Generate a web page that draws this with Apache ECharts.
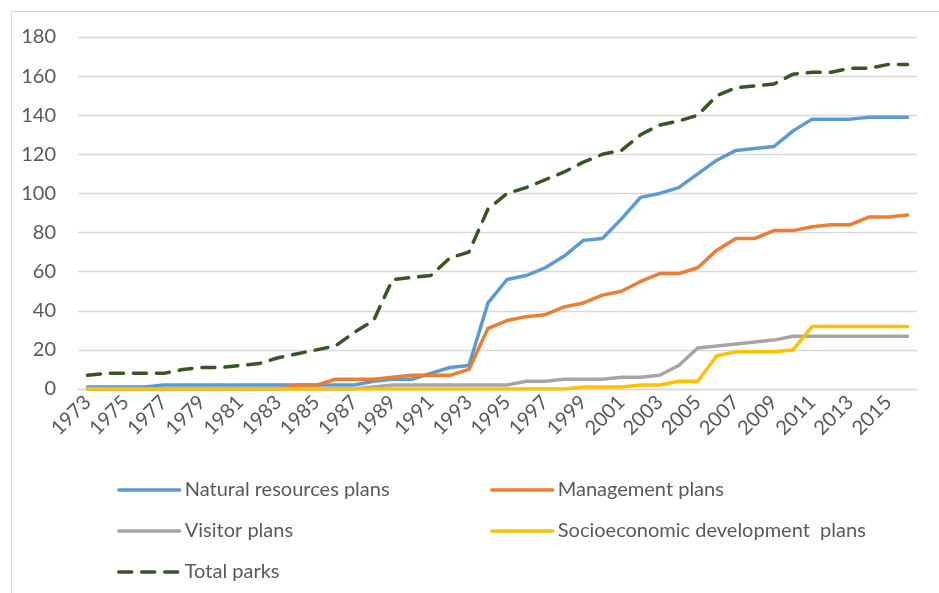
<!DOCTYPE html>
<html>
<head>
<meta charset="utf-8">
<script src="https://cdn.jsdelivr.net/npm/echarts@6/dist/echarts.min.js"></script>
<style>
  html, body { margin: 0; padding: 0; background: #fff; }
  #chart { width: 939px; height: 593px; }
</style>
</head>
<body>
<div id="chart"></div>
<script>
// data
const years = ['1973','1974','1975','1976','1977','1978','1979','1980','1981','1982',
  '1983','1984','1985','1986','1987','1988','1989','1990','1991','1992',
  '1993','1994','1995','1996','1997','1998','1999','2000','2001','2002',
  '2003','2004','2005','2006','2007','2008','2009','2010','2011','2012',
  '2013','2014','2015','2016']
const naturalPlans = [1,1,1,1,2,2,2,2,2,2,2,2,2,2,2,4,5,5,8,11,12,44,56,58,62,68,76,77,87,98,100,103,110,117,122,123,124,132,138,138,138,139,139,139]
const managementPlans = [0,0,0,0,0,0,0,0,0,0,0,2,2,5,5,5,6,7,7,7,10,31,35,37,38,42,44,48,50,55,59,59,62,71,77,77,81,81,83,84,84,88,88,89]
const visitorPlans = [0,0,0,0,0,0,0,0,0,0,0,0,0,0,0,1,2,2,2,2,2,2,2,4,4,5,5,5,6,6,7,12,21,22,23,24,25,27,27,27,27,27,27,27]
const socioPlans = [0,0,0,0,0,0,0,0,0,0,0,0,0,0,0,0,0,0,0,0,0,0,0,0,0,0,1,1,1,2,2,4,4,17,19,19,19,20,32,32,32,32,32,32]
const totalParks = [7,8,8,8,8,10,11,11,12,13,16,18,20,22,29,35,56,57,58,67,70,92,100,103,107,111,116,120,122,130,135,137,140,150,154,155,156,161,162,162,164,164,166,166]
const yTicks = [0, 20, 40, 60, 80, 100, 120, 140, 160, 180]

const names = ['Natural resources plans', 'Management plans', 'Visitor plans', 'Socioeconomic development  plans', 'Total parks']
const colors = ['#5B9BD5', '#ED7D31', '#A5A5A5', '#FFC000', '#375623']
const font = "Lato, 'Open Sans', sans-serif"
const textColor = '#595959'

const chart = echarts.init(document.getElementById('chart'))

// one legend box per item so the two-column layout matches
function legendAt(name, left, top) {
  return {
    data: [name],
    left: left,
    top: top,
    padding: 0,
    itemWidth: 61,
    itemHeight: 24,
    itemStyle: { opacity: 0 },
    lineStyle: { width: 3.5 },
    textStyle: { color: textColor, fontFamily: font, fontSize: 20, lineHeight: 24 }
  }
}

function lineSeries(i, data) {
  return {
    name: names[i],
    type: 'line',
    data: data,
    symbol: 'none',
    z: 2 + i,
    lineStyle: { color: colors[i], width: 3.5, cap: 'round', join: 'round' },
    itemStyle: { color: colors[i] }
  }
}

const option = {
  animation: false,
  backgroundColor: '#fff',
  graphic: [{
    type: 'rect',
    shape: { x: 11.5, y: 11.5, width: 1000, height: 1000 },
    style: { fill: 'none', stroke: '#D9D9D9', lineWidth: 1 }
  }],
  grid: { left: 78, right: 22, top: 37, bottom: 204 },
  legend: [
    legendAt(names[0], 117, 478),
    legendAt(names[1], 490, 478),
    legendAt(names[2], 117, 519),
    legendAt(names[3], 490, 519),
    legendAt(names[4], 117, 560)
  ],
  xAxis: {
    type: 'category',
    data: years,
    boundaryGap: true,
    axisTick: { show: false },
    axisLine: { lineStyle: { color: '#D9D9D9', width: 1.3 } },
    axisLabel: {
      interval: 1,
      rotate: 45,
      margin: 10,
      color: textColor,
      fontFamily: font,
      fontSize: 20
    }
  },
  yAxis: {
    type: 'value',
    min: yTicks[0],
    max: yTicks[yTicks.length - 1],
    interval: 20,
    axisLine: { show: false },
    axisTick: { show: false },
    splitLine: { lineStyle: { color: '#D9D9D9', width: 1.3 } },
    axisLabel: {
      margin: 22,
      color: textColor,
      fontFamily: font,
      fontSize: 20
    }
  },
  series: [
    lineSeries(0, naturalPlans),
    lineSeries(1, managementPlans),
    lineSeries(2, visitorPlans),
    lineSeries(3, socioPlans),
    Object.assign(lineSeries(4, totalParks), {
      lineStyle: { color: colors[4], width: 3.5, type: [13, 10], cap: 'round', join: 'round' }
    })
  ]
}

chart.setOption(option)
</script>
</body>
</html>
